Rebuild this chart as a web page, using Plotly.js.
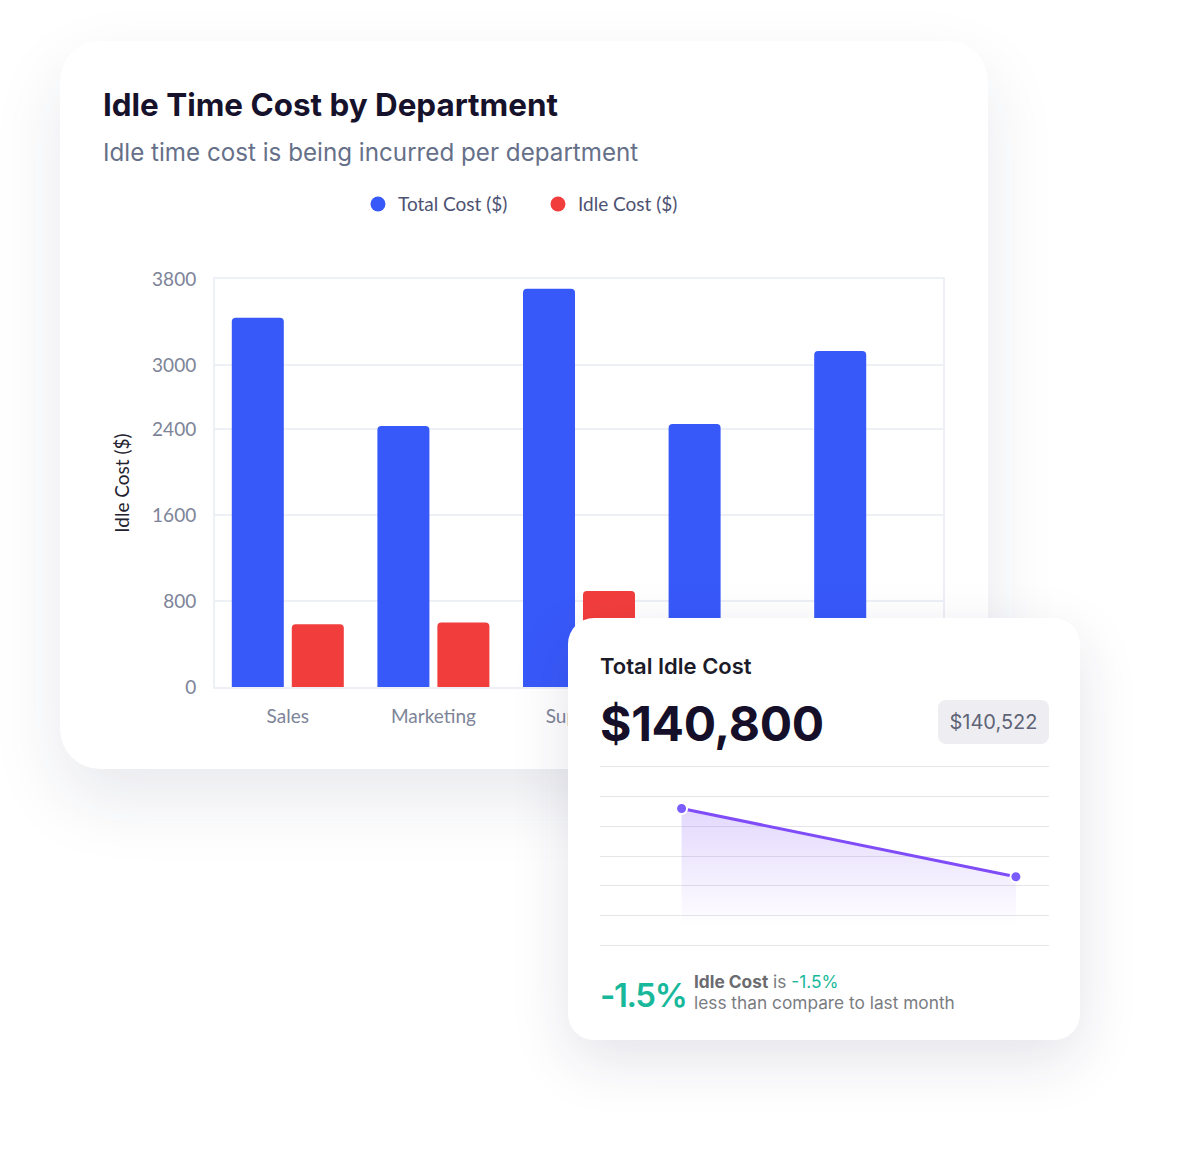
<!DOCTYPE html>
<html>
<head>
<meta charset="utf-8">
<script src="https://cdn.plot.ly/plotly-3.0.1.min.js"></script>
<style>
  html, body { margin: 0; padding: 0; background: #fff; }
  body { width: 1192px; height: 1173px; position: relative; overflow: hidden; font-family: Inter, sans-serif; }
  .card { position: absolute; background: #fff; }
  #card-main { left: 60px; top: 41px; width: 928px; height: 728px; border-radius: 40px;
    box-shadow: 0 30px 70px rgba(30, 35, 80, 0.10); z-index: 1; }
  #graph-bars { position: absolute; left: 0; top: 0; width: 928px; height: 728px; }
  #card-total { left: 568px; top: 618px; width: 512px; height: 422px; border-radius: 26px;
    box-shadow: 0 20px 60px rgba(30, 35, 80, 0.12); z-index: 2; }
  .txt { position: absolute; white-space: nowrap; line-height: 1.21; }
  #total-label { left: 32px; top: 35px; font-size: 22px; font-weight: 600; color: #1c1b29; }
  #total-value { left: 32px; top: 77px; font-size: 48px; font-weight: 700; color: #160f29; letter-spacing: -0.3px; }
  #pill { position: absolute; left: 370px; top: 82px; width: 111px; height: 44px; border-radius: 8px;
    background: #eeeef2; color: #5f6477; font-size: 20px; display: flex; align-items: center; justify-content: center; }
  #graph-line { position: absolute; left: 22px; top: 139px; width: 470px; height: 198px; }
  #change { left: 32px; top: 358px; font-size: 33px; font-weight: 600; color: #18b89b; letter-spacing: -1.4px; }
  #change-note1 { left: 126px; top: 354px; font-size: 17.3px; color: #777a80; }
  #change-note1 b { color: #6b6b70; font-weight: 700; }
  #change-note1 span { color: #18b89b; }
  #change-note2 { left: 126px; top: 375px; font-size: 17.3px; color: #7a7c82; }
</style>
</head>
<body>
<div class="card" id="card-main">
  <div id="graph-bars"></div>
</div>
<div class="card" id="card-total">
  <div class="txt" id="total-label">Total Idle Cost</div>
  <div class="txt" id="total-value">$140,800</div>
  <div id="pill">$140,522</div>
  <div id="graph-line"></div>
  <div class="txt" id="change">-1.5%</div>
  <div class="txt" id="change-note1"><b>Idle Cost</b> is <span>-1.5%</span></div>
  <div class="txt" id="change-note2">less than compare to last month</div>
</div>
<script>
var departments = ['Sales', 'Marketing', 'Support', 'Finance', 'Operations'];
var totalCost = [3440, 2430, 3710, 2450, 3130];
var idleCost = [585, 600, 895, 520, 560];
var yTicks = [0, 800, 1600, 2400, 3000, 3800];

var months = ['Last Month', 'This Month'];
var idleTotals = [142600, 140300];

var blue = '#3859f9';
var red = '#f23d3d';

var trace1 = {
  x: departments,
  y: totalCost,
  type: 'bar',
  name: 'Total Cost ($)',
  showlegend: false,
  marker: { color: blue, cornerradius: 4 }
};

var trace2 = {
  x: departments,
  y: idleCost,
  type: 'bar',
  name: 'Idle Cost ($)',
  showlegend: false,
  marker: { color: red, cornerradius: 4 }
};

// round legend dots
var legend1 = {
  x: [null], y: [null], type: 'scatter', mode: 'markers',
  name: 'Total Cost ($)',
  marker: { color: blue, size: 15, symbol: 'circle' }
};
var legend2 = {
  x: [null], y: [null], type: 'scatter', mode: 'markers',
  name: 'Idle Cost ($)',
  marker: { color: red, size: 15, symbol: 'circle' }
};

var data = [trace1, trace2, legend1, legend2];

var gridColor = '#edf0f5';

var layout = {
  width: 928,
  height: 728,
  margin: { l: 155, r: 45, t: 238, b: 82 },
  paper_bgcolor: 'rgba(0,0,0,0)',
  plot_bgcolor: 'rgba(0,0,0,0)',
  font: { family: 'Lato, sans-serif' },
  title: {
    text: 'Idle Time Cost by Department',
    font: { family: 'Inter, sans-serif', size: 31.4, weight: 700, color: '#17122b' },
    x: 0.0463, xref: 'container', xanchor: 'left',
    y: 0.912, yref: 'container', yanchor: 'middle'
  },
  annotations: [{
    text: 'Idle time cost is being incurred per department',
    xref: 'paper', yref: 'paper',
    x: -0.1565, y: 1.3094,
    xanchor: 'left', yanchor: 'middle',
    showarrow: false,
    font: { family: 'Inter, sans-serif', size: 24.2, color: '#667089' }
  }],
  barmode: 'group',
  bargap: 0.176,
  bargroupgap: 0.133,
  showlegend: true,
  legend: {
    orientation: 'h',
    x: 0.1964, xanchor: 'left',
    y: 1.1834, yanchor: 'middle',
    font: { family: 'Lato, sans-serif', size: 19, color: '#4d5272' },
    entrywidth: 135
  },
  xaxis: {
    type: 'category',
    showgrid: false,
    showline: true,
    mirror: true,
    linecolor: gridColor,
    linewidth: 2,
    ticks: '',
    ticklabelstandoff: 11,
    tickfont: { family: 'Lato, sans-serif', size: 19, color: '#7d8498' },
    fixedrange: true
  },
  yaxis: {
    range: [0, 3800],
    tickmode: 'array',
    tickvals: yTicks,
    ticktext: yTicks.map(String),
    showgrid: true,
    gridcolor: gridColor,
    gridwidth: 2,
    zeroline: false,
    showline: true,
    mirror: true,
    linecolor: gridColor,
    linewidth: 2,
    ticks: '',
    ticklabelstandoff: 13,
    tickfont: { family: 'Lato, sans-serif', size: 19, color: '#7d8498' },
    title: {
      text: 'Idle Cost ($)',
      standoff: 17,
      font: { family: 'Lato, sans-serif', size: 19, color: '#22222e' }
    },
    fixedrange: true
  }
};

var config = { responsive: false, displayModeBar: false, staticPlot: true };

Plotly.newPlot('graph-bars', data, layout, config);

var trace3 = {
  x: months,
  y: idleTotals,
  type: 'scatter',
  mode: 'lines+markers',
  fill: 'tozeroy',
  fillgradient: {
    type: 'vertical',
    start: 138600,
    stop: 142600,
    colorscale: [[0, 'rgba(127, 76, 247, 0)'], [1, 'rgba(127, 76, 247, 0.22)']]
  },
  line: { color: '#7f4cf7', width: 3 },
  marker: { color: '#7b5cff', size: 11, line: { color: '#ffffff', width: 2 } },
  cliponaxis: false
};

var layout2 = {
  width: 470,
  height: 198,
  margin: { l: 10, r: 10.7, t: 10, b: 10 },
  paper_bgcolor: 'rgba(0,0,0,0)',
  plot_bgcolor: 'rgba(0,0,0,0)',
  showlegend: false,
  xaxis: {
    type: 'category',
    range: [-0.244, 1.099],
    showgrid: false,
    showticklabels: false,
    showline: true,
    mirror: true,
    linecolor: '#e5e5ea',
    linewidth: 1,
    zeroline: false,
    fixedrange: true
  },
  yaxis: {
    range: [138000, 144000],
    tick0: 138000,
    dtick: 1000,
    showticklabels: false,
    gridcolor: '#e5e5ea',
    gridwidth: 1,
    zeroline: false,
    fixedrange: true
  }
};

Plotly.newPlot('graph-line', [trace3], layout2, config);
</script>
</body>
</html>
